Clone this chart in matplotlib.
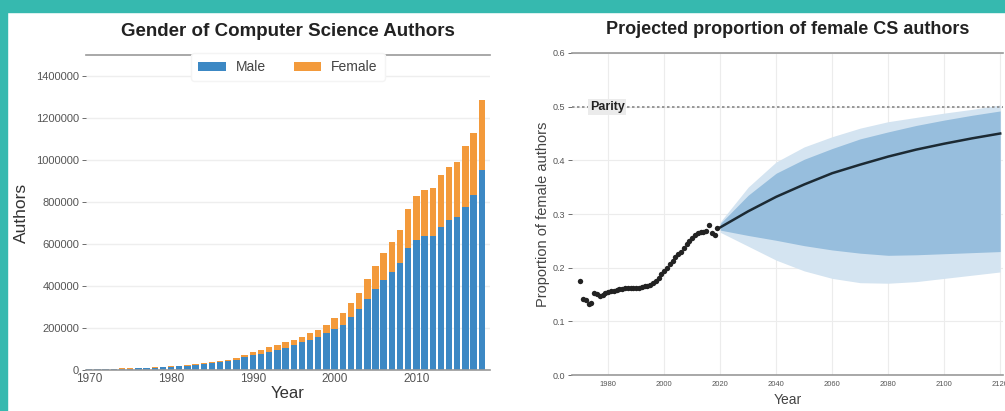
import numpy as np
import matplotlib
matplotlib.use('Agg')
import matplotlib.pyplot as plt
from matplotlib.patches import Rectangle

plt.rcParams['font.family'] = ['Liberation Sans', 'DejaVu Sans']

# left chart: authors per year
years = list(range(1970, 2019))
male = [4000, 4500, 5000, 5500, 6000, 7000, 8000, 9000, 10500, 12500,
        15000, 18000, 21000, 24000, 28000, 31000, 37000, 41000, 47000, 60000,
        70000, 78000, 88000, 95000, 103000, 119000, 132000, 143000, 156000, 175000,
        194000, 214000, 254000, 290000, 337000, 384000, 429000, 468000, 508000, 579000,
        619000, 638000, 640000, 683000, 714000, 730000, 778000, 833000, 952000]
total = [5000, 5500, 6000, 6500, 7200, 8300, 9500, 10800, 12500, 15000,
         18000, 21000, 25000, 28000, 32000, 36000, 43000, 48000, 55000, 71000,
         84000, 94000, 108000, 119000, 135000, 143000, 156000, 175000, 190000, 214000,
         249000, 270000, 318000, 365000, 432000, 495000, 559000, 611000, 667000, 765000,
         829000, 857000, 865000, 929000, 965000, 989000, 1068000, 1130000, 1285000]
female = [t - m for t, m in zip(total, male)]

# right chart: observed proportion
obs_years = list(range(1970, 2020))
obs_prop = [0.176, 0.142, 0.139, 0.132, 0.135, 0.153, 0.151, 0.147, 0.150, 0.153,
            0.155, 0.157, 0.157, 0.159, 0.160, 0.161, 0.162, 0.163, 0.162, 0.163,
            0.162, 0.163, 0.164, 0.165, 0.166, 0.168, 0.172, 0.176, 0.181, 0.188,
            0.194, 0.200, 0.207, 0.212, 0.219, 0.225, 0.230, 0.237, 0.244, 0.250,
            0.256, 0.260, 0.264, 0.266, 0.267, 0.268, 0.280, 0.264, 0.260, 0.273]

# projection
proj_years = [2020, 2030, 2040, 2050, 2060, 2070, 2080, 2090, 2100, 2110, 2120]
proj_mid = [0.275, 0.305, 0.332, 0.355, 0.376, 0.392, 0.407, 0.420, 0.431, 0.441, 0.450]
inner_hi = [0.282, 0.335, 0.376, 0.402, 0.422, 0.440, 0.453, 0.465, 0.475, 0.484, 0.492]
inner_lo = [0.270, 0.260, 0.251, 0.241, 0.233, 0.227, 0.223, 0.224, 0.226, 0.228, 0.230]
outer_hi = [0.285, 0.350, 0.397, 0.425, 0.444, 0.460, 0.472, 0.480, 0.488, 0.495, 0.503]
outer_lo = [0.266, 0.240, 0.214, 0.194, 0.180, 0.172, 0.171, 0.174, 0.180, 0.186, 0.192]

W, H = 1005, 411
fig = plt.figure(figsize=(W / 100, H / 100), dpi=100)
fig.patch.set_facecolor('white')

teal = '#36b9af'
fig.patches.append(Rectangle((0, (H - 12) / H), 1, 12 / H, transform=fig.transFigure,
                             color=teal, zorder=0))
fig.patches.append(Rectangle((0, 0), 7 / W, 1, transform=fig.transFigure,
                             color=teal, zorder=0))


def px_axes(x0, y0, x1, y1):
    return fig.add_axes([x0 / W, (H - y1) / H, (x1 - x0) / W, (y1 - y0) / H])


# ---- left chart ----
ax = px_axes(86, 55, 490, 370)
ax.bar(years, male, width=0.78, color='#3c88c4', label='Male', zorder=2)
ax.bar(years, female, width=0.78, bottom=male, color='#f39a3b', label='Female', zorder=2)
ax.set_xlim(1969.6, 2019.0)
ax.set_ylim(0, 1500000)
ax.set_yticks(range(0, 1400001, 200000))
ax.set_yticklabels([str(v) for v in range(0, 1400001, 200000)])
ax.set_xticks([1970, 1980, 1990, 2000, 2010])
ax.grid(axis='y', color='#eeeeee', linewidth=1, zorder=0)
for s in ['left', 'right']:
    ax.spines[s].set_visible(False)
for s in ['top', 'bottom']:
    ax.spines[s].set_color('#999999')
    ax.spines[s].set_linewidth(1.2)
ax.tick_params(axis='y', labelsize=8, colors='#555555', length=3, width=0.6, pad=2)
ax.tick_params(axis='x', labelsize=8.5, colors='#555555', length=0, pad=2)
ax.set_xlabel('Year', fontsize=12, color='#333333', labelpad=1)
ax.set_ylabel('Authors', fontsize=12.5, color='#333333', labelpad=5)
ax.set_title('Gender of Computer Science Authors', fontsize=13.5, fontweight='bold',
             color='#222222', pad=14)
leg = ax.legend(loc='upper center', bbox_to_anchor=(0.5, 1.006), ncol=2, frameon=True,
                fontsize=10, handlelength=2.0, handleheight=0.6, handletextpad=0.7,
                columnspacing=2.0, borderaxespad=0, borderpad=0.5)
leg.get_frame().set_facecolor('white')
leg.get_frame().set_edgecolor('#f4f4f4')
leg.get_frame().set_alpha(1)
for t in leg.get_texts():
    t.set_color('#444444')

# ---- right chart ----
ax2 = px_axes(572, 53, 1003, 375)
ax2.fill_between(proj_years, outer_lo, outer_hi, color='#d4e4f1', lw=0, zorder=1)
ax2.fill_between(proj_years, inner_lo, inner_hi, color='#97bedd', lw=0, zorder=1.5)
ax2.plot(proj_years, proj_mid, color='#1c2a33', lw=1.8, zorder=3)
ax2.scatter(obs_years, obs_prop, s=15, color='#222222', zorder=3, lw=0)
ax2.axhline(0.5, color='#888888', ls=(0, (1.5, 1.5)), lw=1.2, zorder=2)
ax2.text(1973.4, 0.5, 'Parity', fontsize=9, fontweight='bold', color='#222222',
         ha='left', va='center', zorder=4,
         bbox=dict(boxstyle='square,pad=0.15', facecolor='#ebebeb', edgecolor='none'))
ax2.set_xlim(1967.1, 2121)
ax2.set_ylim(0, 0.6)
ax2.set_xticks(range(1980, 2121, 20))
ax2.set_yticks([0.0, 0.1, 0.2, 0.3, 0.4, 0.5, 0.6])
ax2.set_yticklabels(['0.0', '0.1', '0.2', '0.3', '0.4', '0.5', '0.6'])
ax2.grid(True, color='#ececec', linewidth=0.8, zorder=0)
ax2.set_axisbelow(True)
for s in ['left', 'right']:
    ax2.spines[s].set_visible(False)
for s in ['top', 'bottom']:
    ax2.spines[s].set_color('#999999')
    ax2.spines[s].set_linewidth(1.2)
ax2.tick_params(axis='y', labelsize=6.5, colors='#555555', length=3, width=0.6, pad=2)
ax2.tick_params(axis='x', labelsize=5.5, colors='#555555', length=0, pad=4)
ax2.set_xlabel('Year', fontsize=10, color='#444444', labelpad=4)
ax2.set_ylabel('Proportion of female authors', fontsize=10.5, color='#444444', labelpad=2)
ax2.set_title('Projected proportion of female CS authors', fontsize=13, fontweight='bold',
              color='#222222', pad=14)

fig.savefig('out.png', dpi=100, facecolor=fig.get_facecolor())
